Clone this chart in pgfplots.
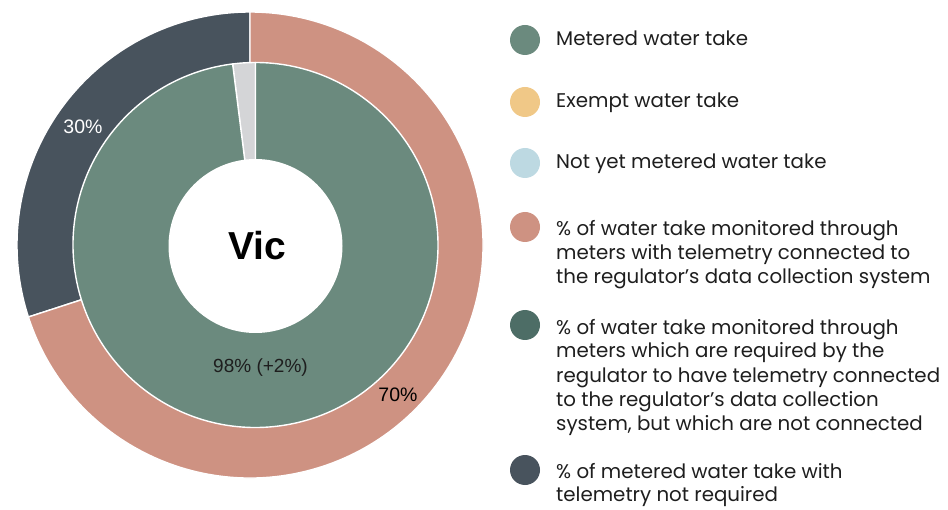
\documentclass[border=0pt]{standalone}
\usepackage{pgfplots}
\pgfplotsset{compat=1.18}
\usepackage{pgfplotstable}
\usepackage{fontspec}
\setmainfont{Poppins}
\newfontfamily\labelfont{Liberation Sans}

\definecolor{metered}{HTML}{6B8A7E}
\definecolor{exempt}{HTML}{F0C887}
\definecolor{notyet}{HTML}{BDD9E2}
\definecolor{telconn}{HTML}{CE9282}
\definecolor{telnotconn}{HTML}{4D6D66}
\definecolor{telnotreq}{HTML}{48535D}
\definecolor{minorgray}{HTML}{D4D5D7}
\definecolor{txt}{HTML}{1E1E1E}

% outer ring: share of metered take by telemetry status (percent)
\pgfplotstableread{
label value
notrequired 30
connected 70
}\outerring
% inner ring: metered vs remainder (percent)
\pgfplotstableread{
label value
remainder 2
metered 98
}\innerring

\pgfplotstablegetelem{0}{value}\of\outerring \let\oA\pgfplotsretval
\pgfplotstablegetelem{1}{value}\of\outerring \let\oB\pgfplotsretval
\pgfplotstablegetelem{0}{value}\of\innerring \let\iA\pgfplotsretval
\pgfplotstablegetelem{1}{value}\of\innerring \let\iB\pgfplotsretval

% #1 cx, #2 cy, #3 r, #4 start angle, #5 end angle, #6 colour
\newcommand{\slice}[6]{%
  \filldraw[fill=#6, draw=white, line width=1.4pt, line join=round]
    (axis cs:#1,#2) -- (axis cs:{#1+#3*cos(#4)},{#2+#3*sin(#4)})
    arc[start angle=#4, end angle=#5, radius=#3pt] -- cycle;}

\newcommand{\legline}[2]{\node[anchor=base west, inner sep=0pt, text=txt,
   font=\fontsize{19.8}{24}\selectfont] at (axis cs:556,#1) {#2};}
\newcommand{\legdot}[2]{\fill[#2] (axis cs:525,#1) circle[radius=15pt];}

\begin{document}
\begin{tikzpicture}
\begin{axis}[name=ax, scale only axis, width=948pt, height=509pt,
  xmin=0, xmax=948, ymin=0, ymax=509, hide axis, clip=false]
  % outer ring
  \pgfmathsetmacro{\oa}{90}
  \pgfmathsetmacro{\ob}{90+3.6*\oA}
  \pgfmathsetmacro{\oc}{90+3.6*(\oA+\oB)}
  \slice{250}{264}{233}{\oa}{\ob}{telnotreq}
  \slice{250}{264}{233}{\ob}{\oc}{telconn}
  % inner ring
  \pgfmathsetmacro{\ia}{90}
  \pgfmathsetmacro{\ib}{90+3.6*\iA}
  \pgfmathsetmacro{\ic}{90+3.6*(\iA+\iB)}
  \slice{255.5}{264}{182.5}{\ia}{\ib}{minorgray}
  \slice{255.5}{264}{182.5}{\ib}{\ic}{metered}
  \fill[white] (axis cs:255.5,263) circle[radius=87pt];
  % labels
  \node[font=\labelfont\fontsize{39}{44}\selectfont\bfseries, text=black] at (axis cs:257,263) {Vic};
  \node[font=\labelfont\fontsize{19.5}{22}\selectfont, text=white] at (axis cs:83,382) {30\%};
  \node[font=\labelfont\fontsize{19.5}{22}\selectfont, text=black] at (axis cs:398,114) {70\%};
  \node[font=\labelfont\fontsize{19}{22}\selectfont, text=txt] at (axis cs:260.5,141) {98\% (+2\%)};
  % legend
  \legdot{469}{metered}
  \legline{463}{Metered water take}
  \legdot{407}{exempt}
  \legline{401}{Exempt water take}
  \legdot{346}{notyet}
  \legline{340}{Not yet metered water take}
  \legdot{282}{telconn}
  \legline{273}{\% of water take monitored through}
  \legline{249}{meters with telemetry connected to}
  \legline{225}{the regulator’s data collection system}
  \legdot{184}{telnotconn}
  \legline{175}{\% of water take monitored through}
  \legline{151}{meters which are required by the}
  \legline{127}{regulator to have telemetry connected}
  \legline{103}{to the regulator’s data collection}
  \legline{79}{system, but which are not connected}
  \legdot{39}{telnotreq}
  \legline{31}{\% of metered water take with}
  \legline{8}{telemetry not required}
\end{axis}
\pgfresetboundingbox
\path (ax.south west) rectangle (ax.north east);
\end{tikzpicture}
\end{document}
